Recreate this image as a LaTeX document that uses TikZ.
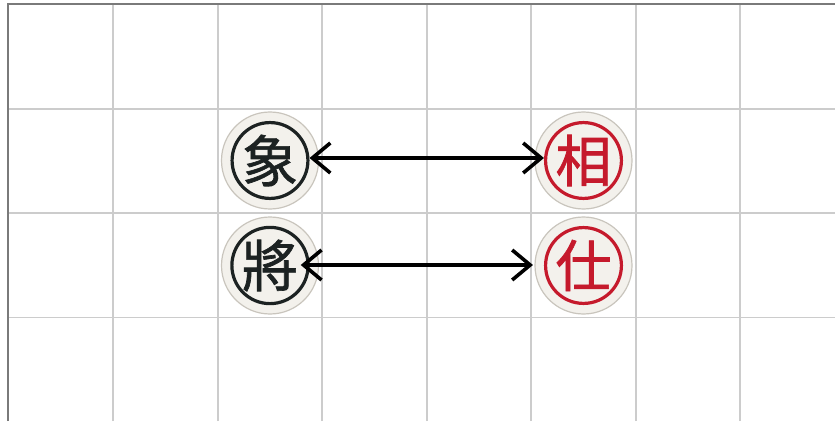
\documentclass[tikz,border=0pt]{standalone}
\usepackage{fontspec}
\newfontfamily\cjk[FakeBold=1.2]{Noto Sans CJK TC}
\usetikzlibrary{arrows.meta}
\definecolor{gridgray}{HTML}{CCCCCC}
\definecolor{bordergray}{HTML}{7A7A7A}
\definecolor{face}{HTML}{F3F1EC}
\definecolor{faceedge}{HTML}{C9C5BD}
\definecolor{inkblack}{HTML}{1C2222}
\definecolor{inkred}{HTML}{C51A2C}
\tikzset{
  disk/.style={circle, minimum size=97pt, inner sep=0pt, fill=face, draw=faceedge, line width=1.2pt},
  ring/.style={circle, minimum size=75pt, inner sep=0pt, line width=3.2pt, font=\cjk\fontsize{56}{56}\selectfont},
  blackring/.style={ring, draw=inkblack, text=inkblack},
  redring/.style={ring, draw=inkred, text=inkred},
  arr/.style={line width=3.6pt, {Straight Barb[length=18pt,width=30pt]}-{Straight Barb[length=18pt,width=30pt]}},
}
\begin{document}
\begin{tikzpicture}[x=1pt,y=1pt]
  \useasboundingbox (0,0) rectangle (835,421);
  \fill[white] (0,0) rectangle (835,421);
  % board grid
  \foreach \gx in {113,218,322,427,531,636,740}
    \draw[gridgray, line width=1.5pt] (\gx,0) -- (\gx,416.5);
  \foreach \gy in {312,208,103.5}
    \draw[gridgray, line width=1.5pt] (8,\gy) -- (835,\gy);
  % board border
  \draw[bordergray, line width=2pt] (8,0) -- (8,416.5) -- (835,416.5);
  % pieces
  \node[disk] (xiangd) at (270,260.5) {};
  \node[blackring] (xiang) at (270,260.5) {象};
  \node[disk] (xiangrd) at (583.5,260.5) {};
  \node[redring] (xiangr) at (583.5,260.5) {相};
  \node[disk] (jiangd) at (270,155.5) {};
  \node[blackring] (jiang) at (270,155.5) {將};
  \node[disk] (shid) at (583.5,155.5) {};
  \node[redring] (shi) at (583.5,155.5) {仕};
  % swaps
  \draw[arr] ([yshift=2.5pt]xiang.east) -- ([yshift=2.5pt]xiangr.west);
  \draw[arr] ([xshift=-9pt,yshift=0.5pt]jiang.east) -- ([xshift=-11pt,yshift=0.5pt]shi.west);
\end{tikzpicture}
\end{document}
